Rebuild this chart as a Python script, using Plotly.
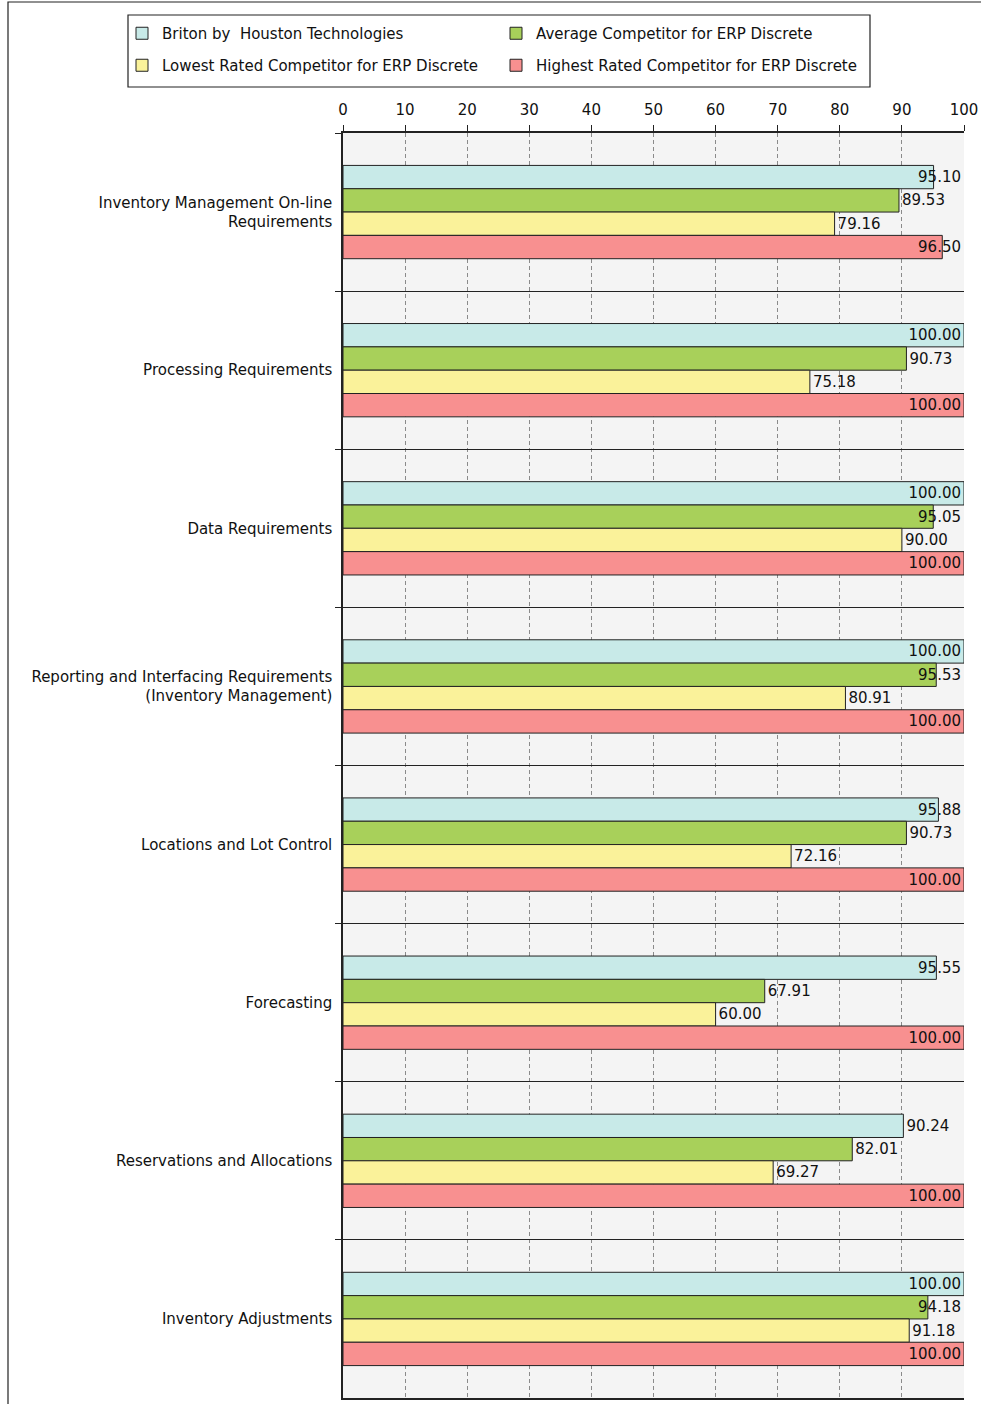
import plotly.graph_objects as go

categories = [
    "Inventory Management On-line<br>Requirements",
    "Processing Requirements",
    "Data Requirements",
    "Reporting and Interfacing Requirements<br>(Inventory Management)",
    "Locations and Lot Control",
    "Forecasting",
    "Reservations and Allocations",
    "Inventory Adjustments",
]
series_names = [
    "Briton by  Houston Technologies",
    "Average Competitor for ERP Discrete",
    "Lowest Rated Competitor for ERP Discrete",
    "Highest Rated Competitor for ERP Discrete",
]
briton = [95.10, 100.00, 100.00, 100.00, 95.88, 95.55, 90.24, 100.00]
average = [89.53, 90.73, 95.05, 95.53, 90.73, 67.91, 82.01, 94.18]
lowest = [79.16, 75.18, 90.00, 80.91, 72.16, 60.00, 69.27, 91.18]
highest = [96.50, 100.00, 100.00, 100.00, 100.00, 100.00, 100.00, 100.00]
colors = ["#c8eae8", "#a8d05a", "#faf29a", "#f89090"]
legend_rows = ["legend", "legend", "legend2", "legend2"]
x_max = 100

FONT = "DejaVu Sans"
FS = 15
TXT = "#111111"
FIT_LIMIT = 92  # labels of longer bars are pulled inside the axis range

all_series = [briton, average, lowest, highest]

fig = go.Figure()
for name, vals, col, lg in zip(series_names, all_series, colors, legend_rows):
    fig.add_trace(go.Bar(
        y=categories, x=vals, name=name, orientation="h",
        marker=dict(color=col, line=dict(color="#222222", width=1)),
        offsetgroup=name, legend=lg,
    ))

# value labels: outside the bar end, or right-aligned at the axis end when they would not fit
for name, vals in zip(series_names, all_series):
    fits = [v <= FIT_LIMIT for v in vals]
    fig.add_trace(go.Bar(
        y=categories,
        x=[v if f else x_max for v, f in zip(vals, fits)],
        orientation="h",
        marker=dict(color="rgba(0,0,0,0)", line=dict(width=0)),
        offsetgroup=name, showlegend=False, hoverinfo="skip",
        text=[f"{v:.2f}" for v in vals],
        textposition=["outside" if f else "inside" for f in fits],
        insidetextanchor="end",
        textfont=dict(family=FONT, size=FS, color=TXT),
        insidetextfont=dict(family=FONT, size=FS, color=TXT),
        outsidetextfont=dict(family=FONT, size=FS, color=TXT),
        constraintext="none", cliponaxis=False,
    ))

W, H = 981, 1404
L, R, T, B = 343, 17, 133, 6
PW, PH = W - L - R, H - T - B


def px_x(px):
    return (px - L) / PW


def px_y(py):
    return 1 + (T - py) / PH


legend_common = dict(
    orientation="h", xanchor="left", yanchor="top", xref="paper", yref="paper",
    borderwidth=0, bgcolor="rgba(0,0,0,0)",
    entrywidth=329, entrywidthmode="pixels",
    font=dict(family=FONT, size=FS, color=TXT), itemwidth=30,
)

fig.update_layout(
    width=W, height=H,
    margin=dict(l=L, r=R, t=T, b=B, autoexpand=False),
    paper_bgcolor="white", plot_bgcolor="#f4f4f4",
    barmode="group", bargap=0.41, bargroupgap=0.0,
    font=dict(family=FONT, size=FS, color=TXT),
    showlegend=True,
    legend=dict(legend_common, x=px_x(122), y=px_y(17)),
    legend2=dict(legend_common, x=px_x(122), y=px_y(49)),
    xaxis=dict(
        side="top", range=[0, x_max], dtick=10, tick0=0,
        showgrid=True, gridcolor="#8a8a8a", griddash="4px,3px", gridwidth=1,
        ticks="outside", ticklen=6, tickcolor="#222222",
        showline=True, linecolor="#222222", linewidth=1.5, mirror=True,
        zeroline=False, fixedrange=True, ticklabelstandoff=4,
        tickfont=dict(family=FONT, size=FS, color=TXT),
    ),
    yaxis=dict(
        type="category", autorange="reversed", tickson="boundaries",
        showgrid=True, gridcolor="#222222", gridwidth=1.2,
        ticks="outside", ticklen=6, tickcolor="#222222",
        showline=True, linecolor="#222222", linewidth=1.5,
        ticklabelstandoff=6, fixedrange=True,
        tickfont=dict(family=FONT, size=FS, color=TXT),
    ),
    shapes=[
        dict(type="rect", xref="paper", yref="paper",
             x0=px_x(8), x1=1.2, y0=-0.2, y1=px_y(2),
             line=dict(color="#222222", width=1.2), fillcolor="rgba(0,0,0,0)",
             layer="below"),
        dict(type="rect", xref="paper", yref="paper",
             x0=px_x(128), x1=px_x(870), y0=px_y(87), y1=px_y(15),
             line=dict(color="#222222", width=1.2), fillcolor="white",
             layer="below"),
    ],
)
fig.write_html("out.html", config={"displayModeBar": False},
               post_script="document.body.style.margin='0px';document.body.style.overflow='hidden';")
